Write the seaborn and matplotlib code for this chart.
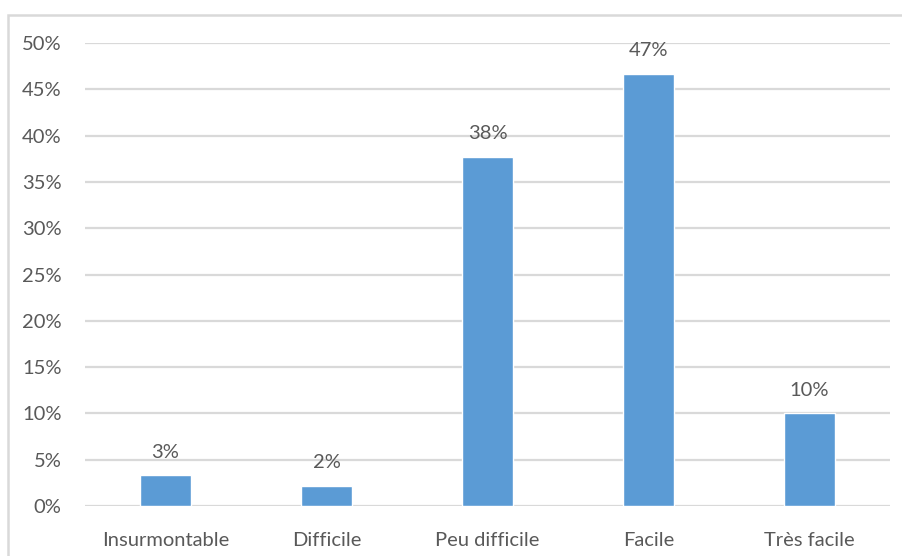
import matplotlib
matplotlib.use("Agg")
import matplotlib.pyplot as plt
import seaborn as sns
import pandas as pd
from matplotlib.patches import Rectangle
from matplotlib.ticker import FuncFormatter

categories = ["Insurmontable", "Difficile", "Peu difficile", "Facile", "Très facile"]
shares = [0.033, 0.022, 0.377, 0.467, 0.100]
y_ticks = [0.00, 0.05, 0.10, 0.15, 0.20, 0.25, 0.30, 0.35, 0.40, 0.45, 0.50]

df = pd.DataFrame({"categorie": categories, "part": shares})

sns.set_theme(style="white")
plt.rcParams["font.family"] = ["Lato", "DejaVu Sans"]

W, H = 903, 556
fig = plt.figure(figsize=(W / 100, H / 100), dpi=100)
# plot area in pixel coordinates: x 85..890, y 43..506
ax = fig.add_axes([85 / W, 1 - 506 / H, (890 - 85) / W, (506 - 43) / H])

bar_color = "#5B9BD5"
text_color = "#595959"
grid_color = "#D9D9D9"
fs = 14.5

sns.barplot(data=df, x="categorie", y="part", color=bar_color, width=0.32,
            saturation=1, ax=ax, zorder=3)

ax.set_ylim(0, 0.5)
ax.set_xlim(-0.5, len(categories) - 0.5)
ax.set_yticks(y_ticks)
ax.yaxis.set_major_formatter(FuncFormatter(lambda v, _: f"{round(v * 100):d}%"))
for y in y_ticks:
    ax.axhline(y, color=grid_color, lw=1.6, zorder=1)

for s in ax.spines.values():
    s.set_visible(False)
ax.set_xlabel("")
ax.set_ylabel("")
ax.tick_params(axis="both", length=0, labelsize=fs, colors=text_color)
ax.tick_params(axis="y", pad=17)
ax.tick_params(axis="x", pad=19)

for i, v in enumerate(shares):
    ax.text(i, v + 0.016, f"{round(v * 100):d}%", ha="center", va="bottom",
            fontsize=fs, color=text_color, zorder=4)

# chart frame
fig.patches.append(Rectangle((8 / W, -0.1), 1.2, 1 - 15 / H + 0.1,
                             transform=fig.transFigure, fill=False,
                             edgecolor=grid_color, lw=1.8))

fig.savefig("out.png", dpi=100, facecolor="white")
